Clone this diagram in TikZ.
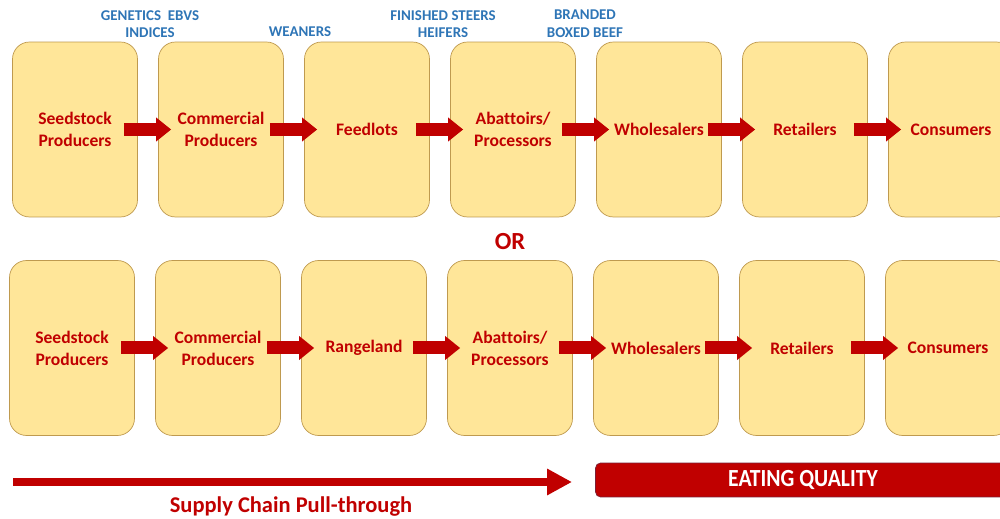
\documentclass[tikz,border=0pt]{standalone}
\usepackage{fontspec}
\setmainfont{Carlito}[Ligatures=NoCommon]
\usetikzlibrary{arrows.meta}
\definecolor{chainred}{HTML}{C00000}
\definecolor{boxfill}{HTML}{FFE699}
\definecolor{boxline}{HTML}{BF9A4F}
\definecolor{tagblue}{HTML}{2E75B6}
\definecolor{barline}{HTML}{7B2035}
\tikzset{
    stage/.style={draw=boxline, fill=boxfill, rounded corners=0.34cm, minimum width=2.5cm, minimum height=3.5cm, align=center, text=chainred, font=\fontsize{10}{12.5}\selectfont\bfseries},
    flow/.style={draw=chainred, line width=0.26cm, -{Triangle[length=0.3cm, width=0.46cm]}, shorten <=-0.28cm, shorten >=-0.26cm},
    tag/.style={text=tagblue, align=center, font=\fontsize{8.5}{10}\selectfont\bfseries},
}
\tikzset{pull/.style={draw=chainred, line width=0.16cm, -{Triangle[length=0.5cm, width=0.5cm]}}}
\tikzset{quality/.style={fill=chainred, draw=barline, rounded corners=0.1cm, minimum width=8.3cm, minimum height=0.68cm, text=white, font=\fontsize{14}{16}\selectfont\bfseries}}

\begin{document}
\begin{tikzpicture}[x=0.02cm, y=-0.02cm]
    \useasboundingbox (0,0) rectangle (1000,519);
    \newcommand\rowA{129.5}
    \newcommand\rowB{348}

    % feedlot chain
    \node[stage] (t1) at (75, \rowA){Seedstock\\Producers};
    \node[stage] (t2) at (221, \rowA){Commercial\\Producers};
    \node[stage] (t3) at (367, \rowA){Feedlots};
    \node[stage] (t4) at (513, \rowA){Abattoirs/\\Processors};
    \node[stage] (t5) at (659, \rowA){Wholesalers};
    \node[stage] (t6) at (805, \rowA){Retailers};
    \node[stage] (t7) at (951, \rowA){Consumers};

    \draw[flow] (t1.east) -- (t2.west);
    \draw[flow] (t2.east) -- (t3.west);
    \draw[flow] (t3.east) -- (t4.west);
    \draw[flow] (t4.east) -- (t5.west);
    \draw[flow] (t5.east) -- (t6.west);
    \draw[flow] (t6.east) -- (t7.west);

    \node[tag] (tagGen) at (150, 24){GENETICS\ \ EBVS\\INDICES};
    \node[tag] (tagWean) at (300, 32){WEANERS};
    \node[tag] (tagFin) at (443, 24){FINISHED STEERS\\HEIFERS};
    \node[tag] (tagBeef) at (585, 24){BRANDED\\BOXED BEEF};

    \node[text=chainred, font=\fontsize{14}{16}\selectfont\bfseries] (or) at (510, 242){OR};

    % rangeland chain
    \node[stage] (b1) at (72, \rowB){Seedstock\\Producers};
    \node[stage] (b2) at (218, \rowB){Commercial\\Producers};
    \node[stage] (b3) at (364, \rowB){Rangeland};
    \node[stage] (b4) at (510, \rowB){Abattoirs/\\Processors};
    \node[stage] (b5) at (656, \rowB){Wholesalers};
    \node[stage] (b6) at (802, \rowB){Retailers};
    \node[stage] (b7) at (948, \rowB){Consumers};

    \draw[flow] (b1.east) -- (b2.west);
    \draw[flow] (b2.east) -- (b3.west);
    \draw[flow] (b3.east) -- (b4.west);
    \draw[flow] (b4.east) -- (b5.west);
    \draw[flow] (b5.east) -- (b6.west);
    \draw[flow] (b6.east) -- (b7.west);

    \coordinate (pullstart) at (13, 482);
    \coordinate (pullend) at (572, 482);
    \draw[pull] (pullstart) -- (pullend);
    \node[text=chainred, font=\fontsize{12.8}{15}\selectfont\bfseries] (pullLab) at (291, 507){Supply Chain Pull-through};

    \node[quality] (eat) at (803, 480){\scalebox{0.88}[1]{EATING QUALITY}};
\end{tikzpicture}
\end{document}
